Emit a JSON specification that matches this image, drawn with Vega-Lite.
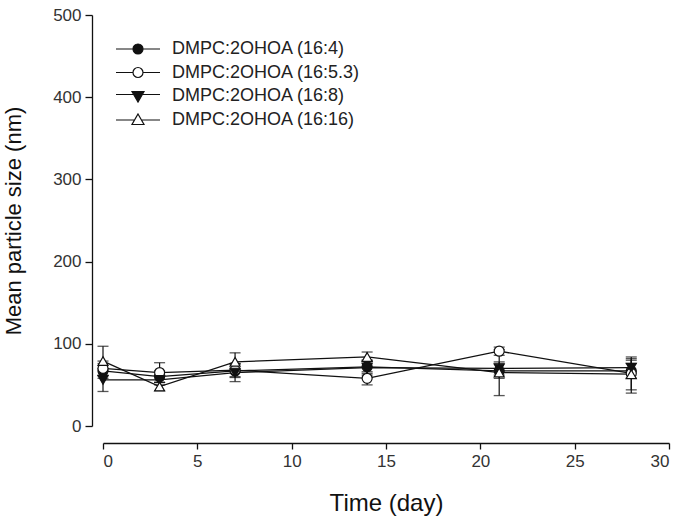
{
  "$schema": "https://vega.github.io/schema/vega-lite/v6.json",
  "width": 566,
  "height": 411,
  "autosize": "none",
  "padding": {"left": 103, "top": 15, "right": 13, "bottom": 100},
  "background": "white",
  "config": {
    "view": {"stroke": null},
    "font": "Liberation Sans",
    "axis": {"grid": false, "domainColor": "#111", "tickColor": "#111", "labelColor": "#333", "titleColor": "#111", "labelFontSize": 17, "titleFontWeight": "normal", "tickSize": 7, "domainWidth": 1.3, "tickWidth": 1.3},
    "legend": {"title": null, "orient": "none", "legendX": 20, "legendY": 25, "padding": 0, "labelFontSize": 18, "labelColor": "#222", "labelLimit": 400, "symbolSize": 100, "symbolStrokeWidth": 1.2, "rowPadding": 5.5, "symbolOffset": 6, "labelOffset": 25}
  },
  "data": {"values": [
    {"series": "DMPC:2OHOA (16:4)", "day": 0, "mean": 67, "lo": 58, "hi": 76},
    {"series": "DMPC:2OHOA (16:4)", "day": 3, "mean": 60, "lo": 53, "hi": 67},
    {"series": "DMPC:2OHOA (16:4)", "day": 7, "mean": 67, "lo": 59, "hi": 75},
    {"series": "DMPC:2OHOA (16:4)", "day": 14, "mean": 72, "lo": 64, "hi": 80},
    {"series": "DMPC:2OHOA (16:4)", "day": 21, "mean": 67, "lo": 58, "hi": 76},
    {"series": "DMPC:2OHOA (16:4)", "day": 28, "mean": 67, "lo": 58, "hi": 76},
    {"series": "DMPC:2OHOA (16:5.3)", "day": 0, "mean": 70, "lo": 61, "hi": 79},
    {"series": "DMPC:2OHOA (16:5.3)", "day": 3, "mean": 65, "lo": 53, "hi": 77},
    {"series": "DMPC:2OHOA (16:5.3)", "day": 7, "mean": 68, "lo": 60, "hi": 76},
    {"series": "DMPC:2OHOA (16:5.3)", "day": 14, "mean": 58, "lo": 50, "hi": 66},
    {"series": "DMPC:2OHOA (16:5.3)", "day": 21, "mean": 91, "lo": 86, "hi": 96},
    {"series": "DMPC:2OHOA (16:5.3)", "day": 28, "mean": 64, "lo": 40, "hi": 80},
    {"series": "DMPC:2OHOA (16:8)", "day": 0, "mean": 56, "lo": 42, "hi": 70},
    {"series": "DMPC:2OHOA (16:8)", "day": 3, "mean": 56, "lo": 50, "hi": 62},
    {"series": "DMPC:2OHOA (16:8)", "day": 7, "mean": 65, "lo": 54, "hi": 76},
    {"series": "DMPC:2OHOA (16:8)", "day": 14, "mean": 71, "lo": 62, "hi": 80},
    {"series": "DMPC:2OHOA (16:8)", "day": 21, "mean": 70, "lo": 62, "hi": 78},
    {"series": "DMPC:2OHOA (16:8)", "day": 28, "mean": 71, "lo": 58, "hi": 84},
    {"series": "DMPC:2OHOA (16:16)", "day": 0, "mean": 79, "lo": 62, "hi": 97},
    {"series": "DMPC:2OHOA (16:16)", "day": 3, "mean": 48, "lo": 43, "hi": 53},
    {"series": "DMPC:2OHOA (16:16)", "day": 7, "mean": 78, "lo": 67, "hi": 89},
    {"series": "DMPC:2OHOA (16:16)", "day": 14, "mean": 84, "lo": 78, "hi": 90},
    {"series": "DMPC:2OHOA (16:16)", "day": 21, "mean": 65, "lo": 37, "hi": 93},
    {"series": "DMPC:2OHOA (16:16)", "day": 28, "mean": 63, "lo": 44, "hi": 82}
  ]},
  "encoding": {
    "x": {"field": "day", "type": "quantitative", "scale": {"domain": [0, 30], "nice": false},
      "axis": {"title": "Time (day)", "titleFontSize": 24, "values": [0, 5, 10, 15, 20, 25, 30], "offset": 17, "tickSize": 6, "labelPadding": 4, "titlePadding": 22}},
    "y": {"field": "mean", "type": "quantitative", "scale": {"domain": [0, 500], "nice": false},
      "axis": {"title": "Mean particle size (nm)", "titleFontSize": 22, "values": [0, 100, 200, 300, 400, 500], "offset": 11, "labelPadding": 4, "titlePadding": 27}}
  },
  "layer": [
    {
      "mark": {"type": "rule", "color": "#111", "strokeWidth": 1.2},
      "encoding": {
        "y": {"field": "lo", "type": "quantitative"},
        "y2": {"field": "hi"}
      }
    },
    {
      "mark": {"type": "tick", "color": "#111", "thickness": 1.3, "size": 11, "orient": "horizontal"},
      "encoding": {"y": {"field": "lo", "type": "quantitative"}}
    },
    {
      "mark": {"type": "tick", "color": "#111", "thickness": 1.3, "size": 11, "orient": "horizontal"},
      "encoding": {"y": {"field": "hi", "type": "quantitative"}}
    },
    {
      "mark": {"type": "line", "color": "#111", "strokeWidth": 1.3},
      "encoding": {"detail": {"field": "series"}}
    },
    {
      "transform": [{"filter": "datum.series === 'DMPC:2OHOA (16:4)'"}],
      "mark": {"type": "point", "shape": "circle", "filled": true, "fill": "#111", "stroke": "#111", "strokeWidth": 1.2, "size": 100, "opacity": 1}
    },
    {
      "transform": [{"filter": "datum.series === 'DMPC:2OHOA (16:5.3)'"}],
      "mark": {"type": "point", "shape": "circle", "filled": true, "fill": "white", "stroke": "#111", "strokeWidth": 1.2, "size": 100, "opacity": 1}
    },
    {
      "transform": [{"filter": "datum.series === 'DMPC:2OHOA (16:8)'"}],
      "mark": {"type": "point", "shape": "triangle-down", "filled": true, "fill": "#111", "stroke": "#111", "strokeWidth": 1.2, "size": 100, "opacity": 1}
    },
    {
      "transform": [{"filter": "datum.series === 'DMPC:2OHOA (16:16)'"}],
      "mark": {"type": "point", "shape": "triangle-up", "filled": true, "fill": "white", "stroke": "#111", "strokeWidth": 1.2, "size": 100, "opacity": 1}
    },
    {
      "transform": [{"filter": "datum.day < 0"}],
      "mark": {"type": "point", "filled": true, "strokeWidth": 1.2, "size": 100, "opacity": 1},
      "encoding": {
        "shape": {"field": "series", "type": "nominal",
          "scale": {"domain": ["DMPC:2OHOA (16:4)", "DMPC:2OHOA (16:5.3)", "DMPC:2OHOA (16:8)", "DMPC:2OHOA (16:16)"],
            "range": [
              "M-4.4,0H-1M1,0H4.4M1,0A1,1 0 1,1 -1,0A1,1 0 1,1 1,0Z",
              "M-4.4,0H-1M1,0H4.4M1,0A1,1 0 1,1 -1,0A1,1 0 1,1 1,0Z",
              "M-4.4,-0.3H4.4M-1.2,-0.9L1.2,-0.9L0,1.2Z",
              "M-4.4,0.1H-0.7M0.7,0.1H4.4M0,-1.1L1.2,1L-1.2,1Z"
            ]}},
        "fill": {"field": "series", "type": "nominal",
          "scale": {"domain": ["DMPC:2OHOA (16:4)", "DMPC:2OHOA (16:5.3)", "DMPC:2OHOA (16:8)", "DMPC:2OHOA (16:16)"], "range": ["#111", "white", "#111", "white"]}},
        "stroke": {"field": "series", "type": "nominal",
          "scale": {"domain": ["DMPC:2OHOA (16:4)", "DMPC:2OHOA (16:5.3)", "DMPC:2OHOA (16:8)", "DMPC:2OHOA (16:16)"], "range": ["#111", "#111", "#111", "#111"]}}
      }
    }
  ]
}
